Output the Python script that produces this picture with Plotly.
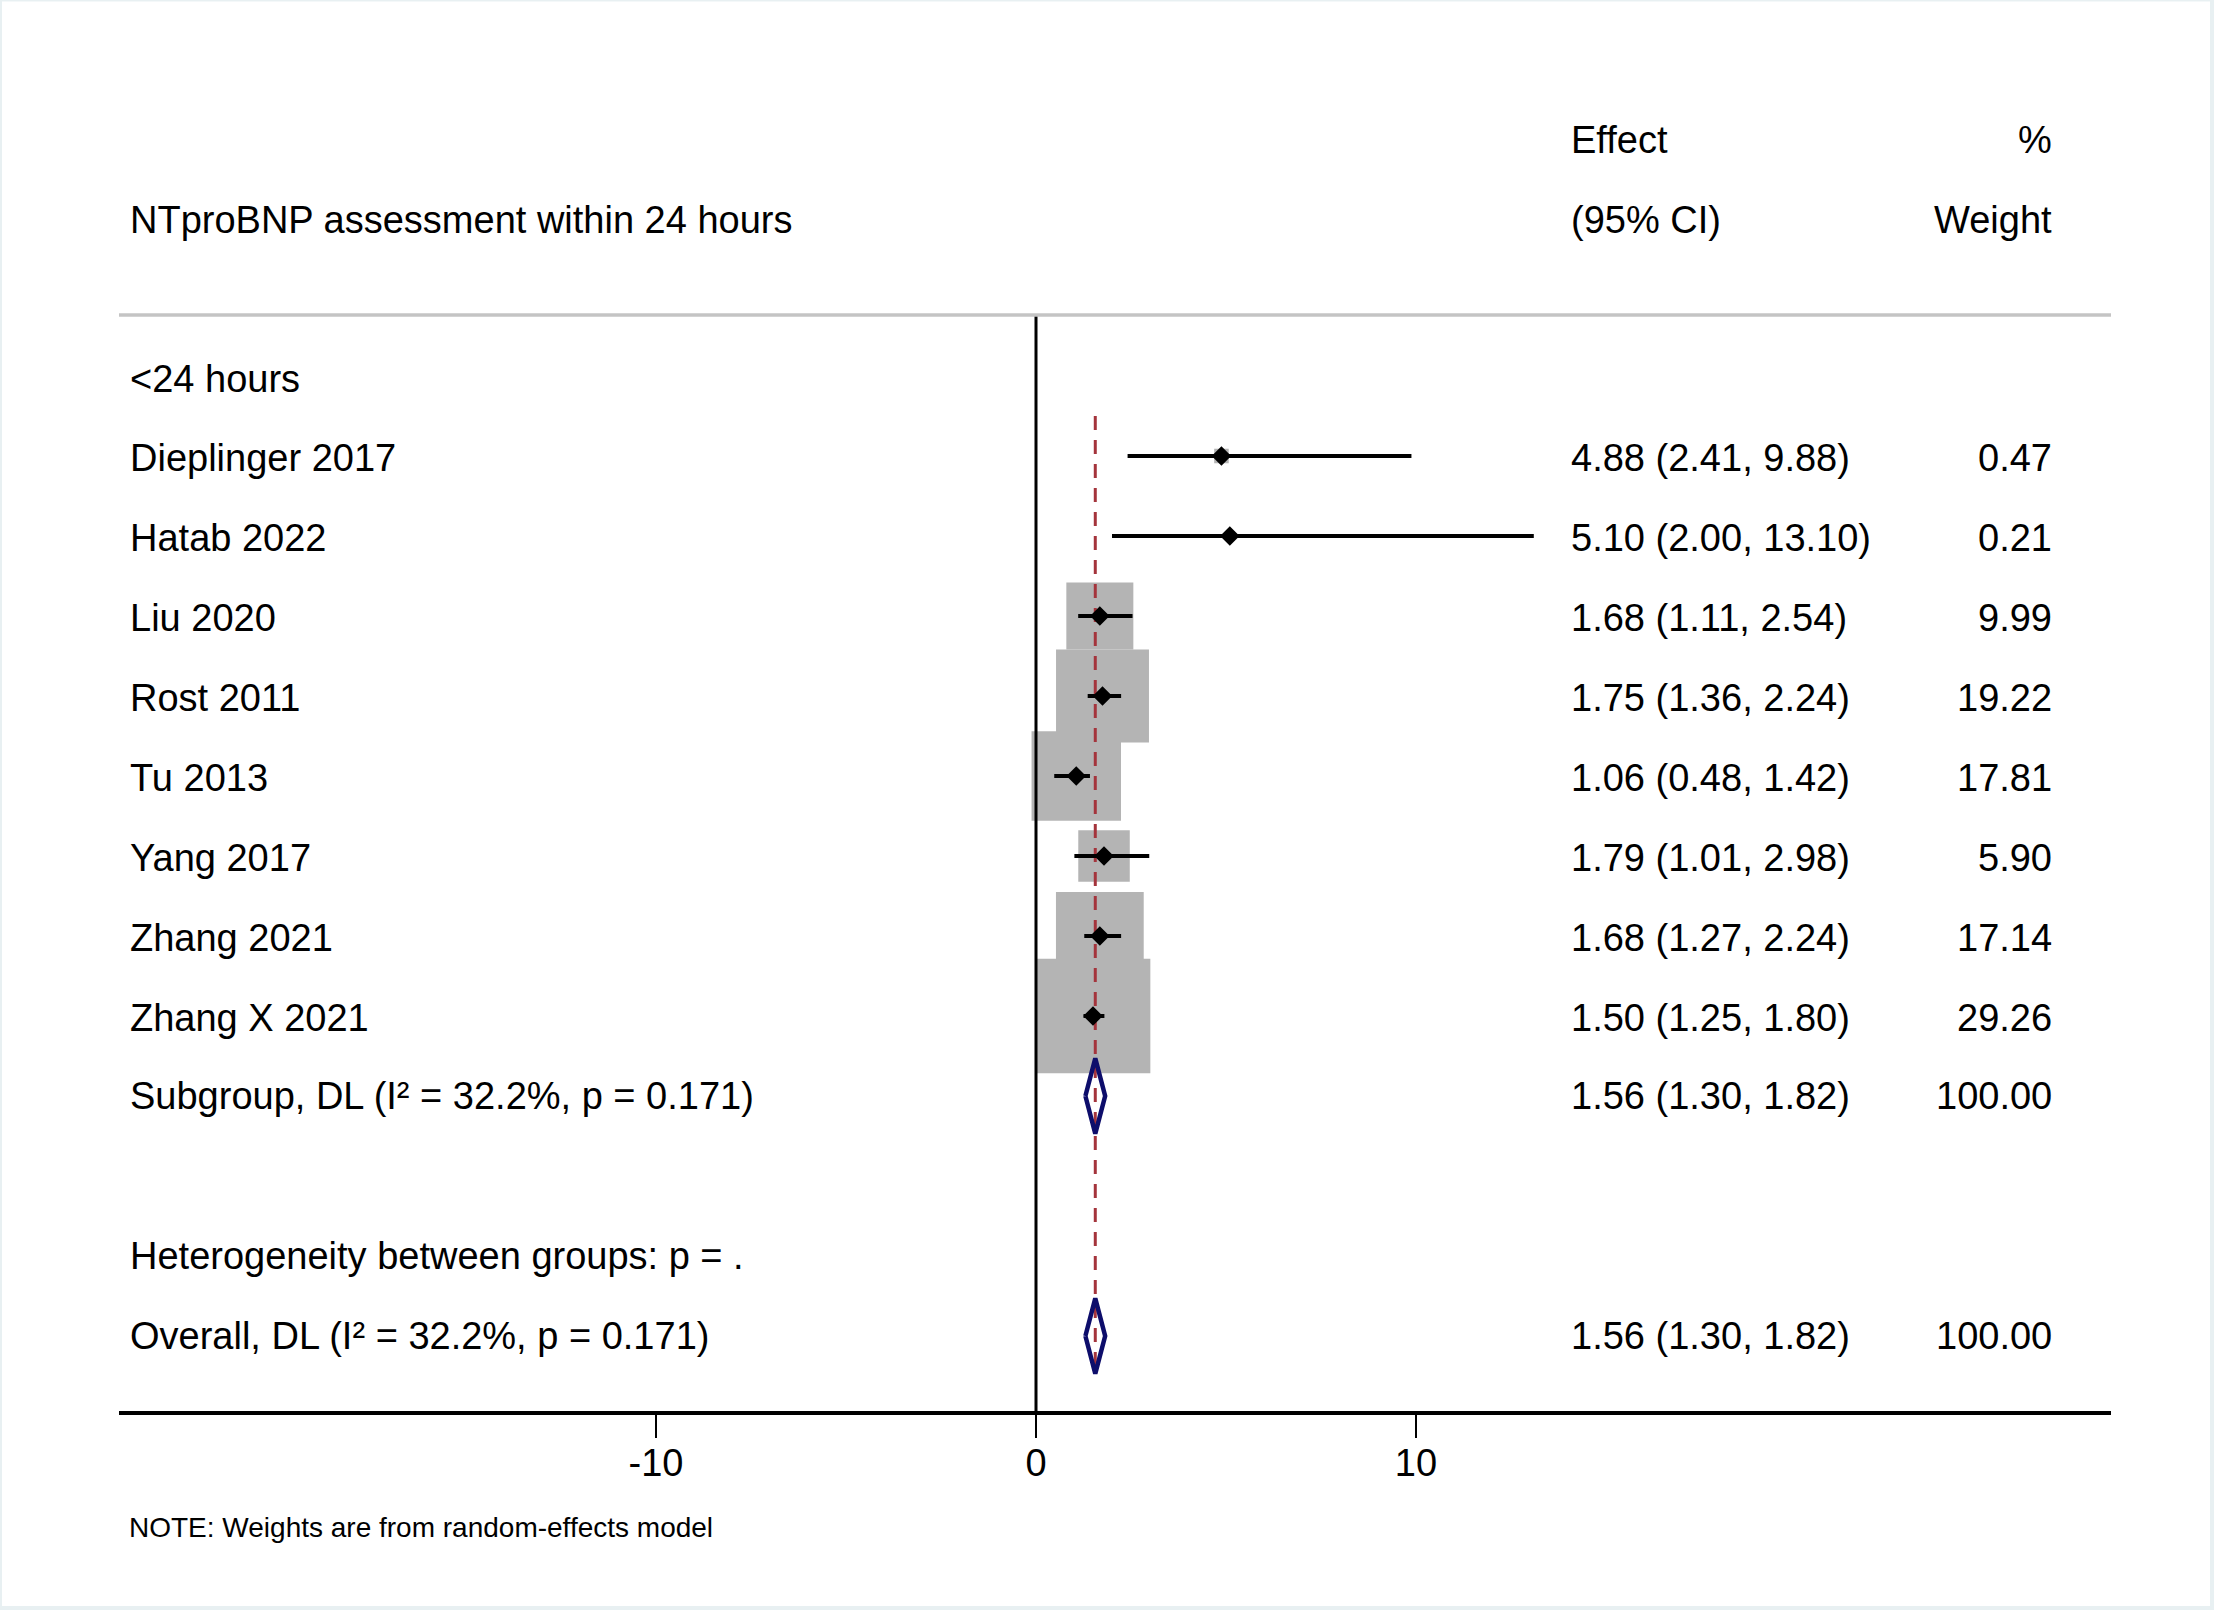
import plotly.graph_objects as go
import math

# ---------------- data ----------------
title = "NTproBNP assessment within 24 hours"
subgroup_label = "<24 hours"
studies = ["Dieplinger 2017", "Hatab 2022", "Liu 2020", "Rost 2011",
           "Tu 2013", "Yang 2017", "Zhang 2021", "Zhang X 2021"]
effect = [4.88, 5.10, 1.68, 1.75, 1.06, 1.79, 1.68, 1.50]
lower = [2.41, 2.00, 1.11, 1.36, 0.48, 1.01, 1.27, 1.25]
upper = [9.88, 13.10, 2.54, 2.24, 1.42, 2.98, 2.24, 1.80]
weight = [0.47, 0.21, 9.99, 19.22, 17.81, 5.90, 17.14, 29.26]

pooled_labels = ["Subgroup, DL (I\u00b2 = 32.2%, p = 0.171)",
                 "Overall, DL (I\u00b2 = 32.2%, p = 0.171)"]
pooled_est = [1.56, 1.56]
pooled_lo = [1.30, 1.30]
pooled_hi = [1.82, 1.82]
pooled_wt = [100.00, 100.00]
het_label = "Heterogeneity between groups: p = ."
note = "NOTE: Weights are from random-effects model"

tick_vals = [-10, 0, 10]
tick_text = ["-10", "0", "10"]

# ---------------- layout geometry ----------------
W, H = 2214, 1610
X0_PX = 1036.0      # pixel of x = 0
PX_PER_UNIT = 38.0
ROW0_PX = 376.0     # pixel of row 0
ROW_PX = 80.0
AX_L, AX_R = 119.0, 2111.0
AXIS_Y_PX = 1413.0


def xd(px):
    return (px - X0_PX) / PX_PER_UNIT


def yr(px):
    return (px - ROW0_PX) / ROW_PX


x_range = [xd(AX_L), xd(AX_R)]
y_range = [yr(H), yr(0)]

LABEL_X = xd(128)
EFFECT_X = xd(1569)
WEIGHT_X = xd(2054)
TXT_DY = 0.025      # small downward nudge of text relative to marks
HDR_DY = 0.05

study_rows = list(range(1, 1 + len(studies)))
pooled_rows = [len(studies) + 1, len(studies) + 4]
het_row = len(studies) + 3

FONT = "Liberation Sans, Arial, Helvetica, sans-serif"
FS = 38
BOX_K = 21.2  # pixel side per sqrt(weight)

fig = go.Figure()

# boxes
shapes = []
for e, w, r in zip(effect, weight, study_rows):
    side = BOX_K * math.sqrt(w)
    hx = side / 2 / PX_PER_UNIT
    hy = side / 2 / ROW_PX
    shapes.append(dict(type="rect", xref="x", yref="y", x0=e - hx, x1=e + hx,
                       y0=r - hy, y1=r + hy, fillcolor="#B4B4B4",
                       line=dict(width=0), layer="below"))

# header rule
shapes.append(dict(type="line", xref="x domain", yref="y", x0=0, x1=1,
                   y0=yr(315), y1=yr(315), line=dict(color="#C4C4C4", width=3.5)))

# frame background
shapes.append(dict(type="rect", xref="paper", yref="paper",
                   x0=2 / W, x1=(W - 4) / W, y0=4 / H, y1=1 - 1.5 / H,
                   fillcolor="white", line=dict(width=0), layer="below"))

# null line at 0
fig.add_trace(go.Scatter(x=[0, 0], y=[yr(315), yr(AXIS_Y_PX)], mode="lines",
                         line=dict(color="black", width=3), hoverinfo="skip",
                         showlegend=False))

# overall dashed line
fig.add_trace(go.Scatter(x=[pooled_est[-1], pooled_est[-1]],
                         y=[study_rows[0] - 0.5, pooled_rows[-1] + 0.47],
                         mode="lines",
                         line=dict(color="#A4343C", width=3, dash="14px,10px"),
                         hoverinfo="skip", showlegend=False))

# CI lines
ci_x, ci_y = [], []
for l, u, r in zip(lower, upper, study_rows):
    ci_x += [l, u, None]
    ci_y += [r, r, None]
fig.add_trace(go.Scatter(x=ci_x, y=ci_y, mode="lines",
                         line=dict(color="black", width=4), hoverinfo="skip",
                         showlegend=False))

# point estimates
fig.add_trace(go.Scatter(x=effect, y=study_rows, mode="markers",
                         marker=dict(symbol="diamond", size=15, color="black",
                                     line=dict(width=0)),
                         hoverinfo="skip", showlegend=False))

# pooled diamonds
for e, lo, hi, r in zip(pooled_est, pooled_lo, pooled_hi, pooled_rows):
    h = 0.47
    fig.add_trace(go.Scatter(x=[lo, e, hi, e, lo], y=[r, r - h, r, r + h, r],
                             mode="lines", line=dict(color="#0D0D6B", width=4.5),
                             hoverinfo="skip", showlegend=False))

# text annotations
ann = []


def txt(x, y, s, anchor="left", size=FS, dy=TXT_DY):
    ann.append(dict(x=x, y=y + dy, xref="x", yref="y", text=s, showarrow=False,
                    xanchor=anchor, yanchor="middle",
                    font=dict(family=FONT, size=size, color="black")))


txt(EFFECT_X, -3, "Effect", dy=HDR_DY)
txt(WEIGHT_X, -3, "%", "right", dy=HDR_DY)
txt(LABEL_X, -2, title, dy=HDR_DY)
txt(EFFECT_X, -2, "(95% CI)", dy=HDR_DY)
txt(WEIGHT_X, -2, "Weight", "right", dy=HDR_DY)
txt(LABEL_X, 0, subgroup_label, dy=0.035)
for s, e, l, u, w, r in zip(studies, effect, lower, upper, weight, study_rows):
    txt(LABEL_X, r, s)
    txt(EFFECT_X, r, f"{e:.2f} ({l:.2f}, {u:.2f})")
    txt(WEIGHT_X, r, f"{w:.2f}", "right")
for s, e, lo, hi, w, r in zip(pooled_labels, pooled_est, pooled_lo, pooled_hi,
                              pooled_wt, pooled_rows):
    txt(LABEL_X, r, s, dy=0.0)
    txt(EFFECT_X, r, f"{e:.2f} ({lo:.2f}, {hi:.2f})", dy=0.0)
    txt(WEIGHT_X, r, f"{w:.2f}", "right", dy=0.0)
txt(LABEL_X, het_row, het_label, dy=0.0)
ann.append(dict(x=127 / W, y=1 - 1527 / H, xref="paper", yref="paper", text=note,
                showarrow=False, xanchor="left", yanchor="middle",
                font=dict(family=FONT, size=28, color="black")))

fig.update_layout(
    width=W, height=H, margin=dict(l=0, r=0, t=0, b=0),
    paper_bgcolor="#E8F0F2", plot_bgcolor="rgba(0,0,0,0)",
    shapes=shapes, annotations=ann, showlegend=False,
    xaxis=dict(domain=[AX_L / W, AX_R / W], range=x_range, anchor="free",
               position=(H - AXIS_Y_PX) / H, showline=True, linecolor="black",
               linewidth=3.5, ticks="outside", ticklen=23, tickwidth=2,
               tickcolor="black", tickvals=tick_vals, ticktext=tick_text,
               ticklabelstandoff=-7,
               tickfont=dict(family=FONT, size=FS, color="black"),
               showgrid=False, zeroline=False, fixedrange=True),
    yaxis=dict(range=y_range, visible=False, showgrid=False, zeroline=False,
               fixedrange=True),
)

fig.write_html("out.html")
